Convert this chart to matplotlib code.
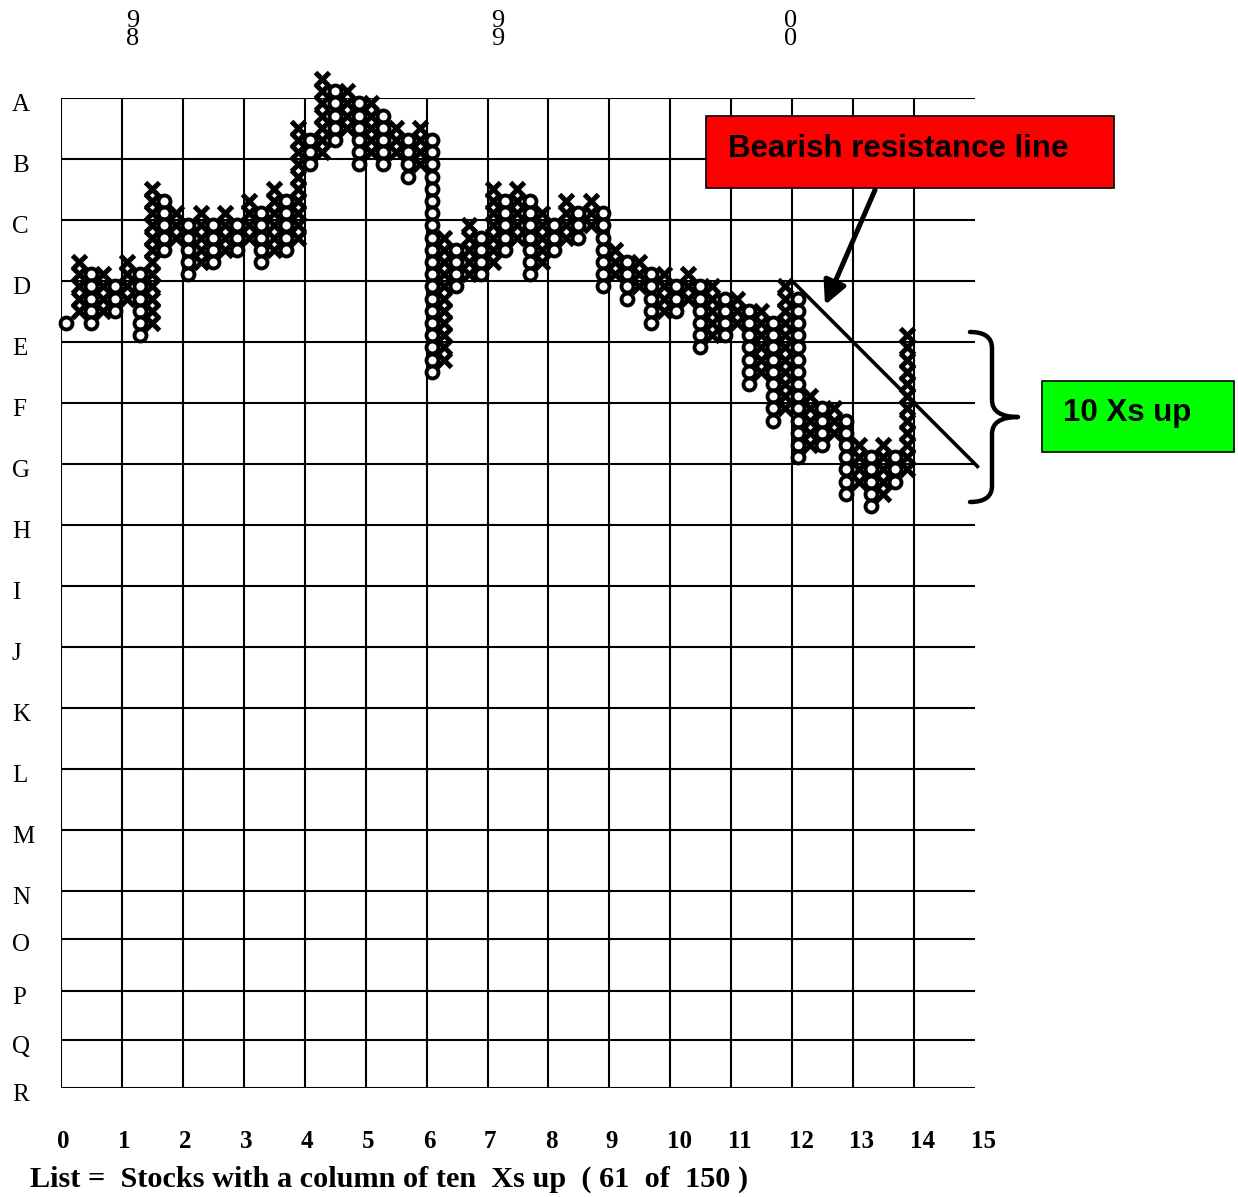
import matplotlib
matplotlib.use("Agg")
import matplotlib.pyplot as plt
from matplotlib.patches import Rectangle, PathPatch
from matplotlib.path import Path
from matplotlib.transforms import blended_transform_factory
import numpy as np

# ---------------- data (point & figure columns) ----------------
first_o_box = 18  # single O of the first column (box index, counted downward from row A)
# bottom box of every O column (columns 0, 2, 4, ...)
o_bottoms = [18, 18, 17, 19, 12, 14, 13, 12, 13, 12, 5, 3, 5, 5, 6, 22, 15, 14,
             12, 14, 12, 11, 15, 16, 18, 17, 20, 19, 23, 26, 29, 28, 32, 33, 31]
# top box of every X column (columns 1, 3, 5, ...)
x_tops = [13, 14, 13, 7, 9, 9, 9, 8, 7, 2, -2, -1, 0, 2, 2, 11, 10, 7, 7, 9,
          8, 8, 12, 13, 14, 14, 15, 16, 17, 15, 24, 25, 28, 28, 19]

row_labels = list("ABCDEFGHIJKLMNOPQR")
row_positions = [0, 5, 10, 15, 20, 25, 30, 35, 40, 45, 50, 55, 60, 65, 68.9, 73.2, 77.2, 81.15]
col_labels = [str(i) for i in range(16)]
col_positions = [5 * i for i in range(16)]
year_labels = ["9\n8", "9\n9", "0\n0"]
year_cols = [5, 35, 59]
resist_start = (60.0, 15.0)
resist_end = (75.2, 30.2)

W, H = 1238, 1197
fig = plt.figure(figsize=(W / 100, H / 100), dpi=100)
fig.patch.set_facecolor("white")


def fx(px):
    return px / W


def fy(py):
    return 1 - py / H


ax = fig.add_axes([fx(61), fy(1088), fx(975) - fx(61), fy(98) - fy(1088)])
ax.set_xlim(0, 75)
ax.set_ylim(81.15, 0)
ax.axis("off")

# grid
ax.vlines(col_positions[:15], 0, 81.15, color="black", lw=1.5, zorder=1)
ax.hlines(row_positions, 0, 75, color="black", lw=1.5, zorder=1)

# build columns
xs_x, xs_y, os_x, os_y = [], [], [], []
for i in range(len(o_bottoms)):
    oc = 2 * i
    start = first_o_box if i == 0 else x_tops[i - 1] + 1
    for b in range(start, o_bottoms[i] + 1):
        os_x.append(oc)
        os_y.append(b)
    xc = 2 * i + 1
    for b in range(x_tops[i], o_bottoms[i]):
        xs_x.append(xc)
        xs_y.append(b)

off = 0.45
ax.plot(np.array(xs_x) + off, np.array(xs_y) + off, linestyle="none", marker="x",
        ms=10, mew=3.6, color="black", clip_on=False, zorder=3)
ax.plot(np.array(os_x) + off, np.array(os_y) + off, linestyle="none", marker="o",
        ms=8.6, mew=2.8, mec="black", mfc="white", clip_on=False, zorder=4)

# bearish resistance line
ax.plot([resist_start[0], resist_end[0]], [resist_start[1], resist_end[1]],
        color="black", lw=2.6, clip_on=False, zorder=5)

serif = ["Liberation Serif", "DejaVu Serif"]
sans = ["Liberation Sans", "DejaVu Sans"]

# row labels
tr_rows = blended_transform_factory(fig.transFigure, ax.transData)
for lab, pos in zip(row_labels, row_positions):
    ax.text(fx(12), pos + 0.55, lab, transform=tr_rows, ha="left", va="center",
            fontsize=18, family=serif, color="black")

# column labels
tr_cols = blended_transform_factory(ax.transData, fig.transFigure)
for lab, pos in zip(col_labels, col_positions):
    ax.text(pos - 0.3, fy(1142), lab, transform=tr_cols, ha="left", va="center",
            fontsize=18, fontweight="bold", family=serif, color="black")

# year labels on top
for lab, c in zip(year_labels, year_cols):
    ax.text(c + off + 0.4, fy(30), lab, transform=tr_cols, ha="center", va="center",
            fontsize=19, family=serif, linespacing=0.8, color="black")

# caption
fig.text(fx(30), fy(1179), "List =  Stocks with a column of ten  Xs up  ( 61  of  150 )",
         ha="left", va="center", fontsize=21.8, fontweight="bold", family=serif, color="black")

# red callout
fig.patches.append(Rectangle((fx(706), fy(188)), fx(1114) - fx(706), fy(116) - fy(188),
                             transform=fig.transFigure, facecolor="#ff0000",
                             edgecolor="black", lw=1.2, zorder=6))
fig.text(fx(728), fy(149), "Bearish resistance line", ha="left", va="center",
         fontsize=22.5, fontweight="bold", family=sans, color="black", zorder=7)

# arrow from red callout to the line
ax.annotate("", xy=(825, H - 305), xycoords="figure pixels",
            xytext=(875, H - 190), textcoords="figure pixels",
            arrowprops=dict(arrowstyle="-|>,head_length=1.4,head_width=0.7",
                            lw=3.6, color="black", shrinkA=0, shrinkB=0),
            annotation_clip=False, zorder=8)

# green callout
fig.patches.append(Rectangle((fx(1042), fy(452)), fx(1234) - fx(1042), fy(381) - fy(452),
                             transform=fig.transFigure, facecolor="#00ff00",
                             edgecolor="black", lw=1.2, zorder=6))
fig.text(fx(1063), fy(413), "10 Xs up", ha="left", va="center",
         fontsize=22.5, fontweight="bold", family=sans, color="black", zorder=7)

# curly brace
bp = [(970, 332), (992, 332), (992, 348), (992, 400), (992, 417), (1018, 417),
      (992, 417), (992, 434), (992, 486), (992, 502), (970, 502)]
verts = [(fx(x), fy(y)) for x, y in bp]
codes = [Path.MOVETO, Path.CURVE3, Path.CURVE3, Path.LINETO, Path.CURVE3, Path.CURVE3,
         Path.CURVE3, Path.CURVE3, Path.LINETO, Path.CURVE3, Path.CURVE3]
fig.patches.append(PathPatch(Path(verts, codes), transform=fig.transFigure,
                             facecolor="none", edgecolor="black", lw=3.2,
                             capstyle="round", joinstyle="round"))

fig.savefig("out.png", dpi=100, facecolor="white")
